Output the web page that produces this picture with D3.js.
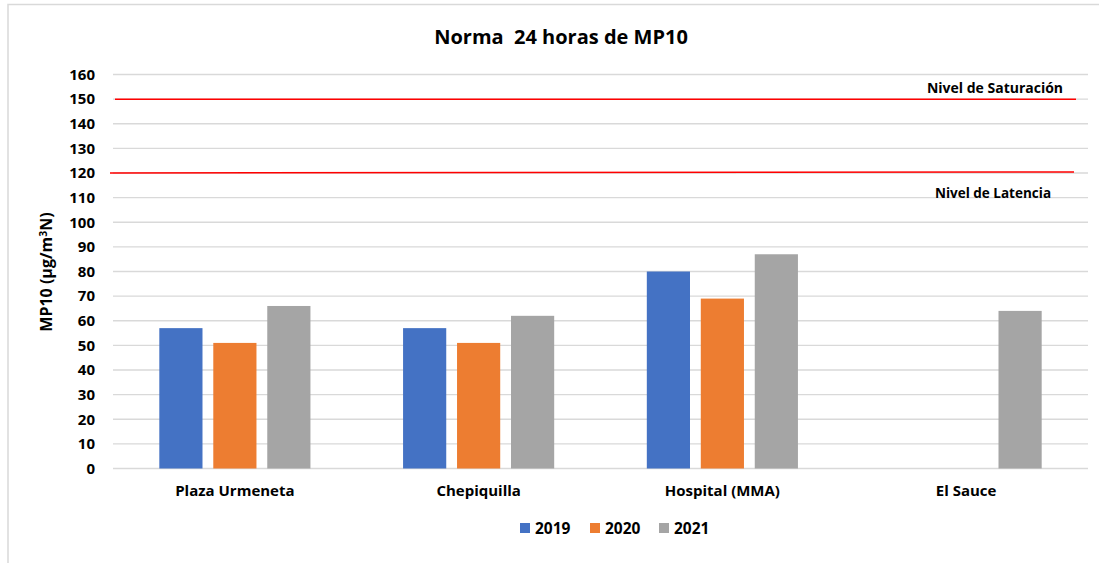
<!DOCTYPE html>
<html>
<head>
<meta charset="utf-8">
<script src="https://cdn.jsdelivr.net/npm/d3@7"></script>
<style>
  body { margin: 0; background: #fff; }
  svg { font-family: "Open Sans", sans-serif; font-weight: bold; }
</style>
</head>
<body>
<svg width="1099" height="563"></svg>
<script>
// data
const stations = ["Plaza Urmeneta", "Chepiquilla", "Hospital (MMA)", "El Sauce"];
const years = ["2019", "2020", "2021"];
const v2019 = [57, 57, 80, null];
const v2020 = [51, 51, 69, null];
const v2021 = [66, 62, 87, 64];
const yTicks = d3.range(0, 161, 10);
const limits = [
  { value: 150, label: "Nivel de Saturación" },
  { value: 120, label: "Nivel de Latencia" }
];

const colors = { "2019": "#4472c4", "2020": "#ed7d31", "2021": "#a5a5a5" };
const series = { "2019": v2019, "2020": v2020, "2021": v2021 };

const svg = d3.select('svg');

// outer chart border (cut at right/bottom like the screenshot)
svg.append('rect')
  .attr('x', 8).attr('y', 4.5)
  .attr('width', 1200).attr('height', 700)
  .attr('fill', 'none')
  .attr('stroke', '#d9d9d9')
  .attr('stroke-width', 1.5);

const x0 = d3.scaleBand().domain(stations).range([113, 1088]).paddingInner(0.38).paddingOuter(0.19);
const x1 = d3.scaleBand().domain(years).range([0, x0.bandwidth()]).paddingInner(0.2);
const y = d3.scaleLinear().domain([0, 160]).range([468.5, 74.5]);

// gridlines
svg.append('g')
  .selectAll('line').data(yTicks).enter()
  .append('line')
  .attr('x1', 113).attr('x2', 1088)
  .attr('y1', d => y(d)).attr('y2', d => y(d))
  .attr('stroke', '#d9d9d9')
  .attr('stroke-width', 1.3);

// y axis labels
const yAxis = d3.axisLeft(y).tickValues(yTicks).tickSize(0).tickPadding(0);
svg.append('g')
  .attr('transform', 'translate(95,0)')
  .call(yAxis)
  .call(g => g.select('.domain').remove())
  .selectAll('text')
  .style('font-size', '15px')
  .style('font-family', '"Open Sans", sans-serif')
  .style('font-weight', 'bold')
  .attr('fill', '#000');

// bars
const groups = svg.append('g').selectAll('g').data(stations).enter()
  .append('g')
  .attr('transform', d => `translate(${x0(d)},0)`);

groups.selectAll('rect')
  .data((d, i) => years.map(yr => ({ yr, v: series[yr][i] })).filter(o => o.v != null))
  .enter().append('rect')
  .attr('x', d => x1(d.yr))
  .attr('y', d => y(d.v))
  .attr('width', x1.bandwidth())
  .attr('height', d => y(0) - y(d.v))
  .attr('fill', d => colors[d.yr]);

// x axis labels
const xAxis = d3.axisBottom(x0).tickSize(0).tickPadding(0);
svg.append('g')
  .attr('transform', 'translate(0,485)')
  .call(xAxis)
  .call(g => g.select('.domain').remove())
  .selectAll('text')
  .style('font-size', '15px')
  .style('font-family', '"Open Sans", sans-serif')
  .style('font-weight', 'bold')
  .attr('fill', '#000');

// norm lines
svg.append('line')
  .attr('x1', 115).attr('x2', 1076)
  .attr('y1', y(limits[0].value)).attr('y2', y(limits[0].value))
  .attr('stroke', '#ff0000').attr('stroke-width', 1.5);
svg.append('line')
  .attr('x1', 110).attr('x2', 1074)
  .attr('y1', y(limits[1].value)).attr('y2', y(limits[1].value) - 1)
  .attr('stroke', '#ff0000').attr('stroke-width', 1.5);

svg.append('text')
  .attr('x', 995).attr('y', 93)
  .attr('text-anchor', 'middle')
  .style('font-size', '14px')
  .text(limits[0].label);
svg.append('text')
  .attr('x', 993).attr('y', 198)
  .attr('text-anchor', 'middle')
  .style('font-size', '13.5px')
  .text(limits[1].label);

// title
svg.append('text')
  .attr('x', 561).attr('y', 44)
  .attr('text-anchor', 'middle')
  .style('font-size', '20px')
  .style('white-space', 'pre')
  .attr('xml:space', 'preserve')
  .text('Norma  24 horas de MP10');

// y axis title
const yt = svg.append('text')
  .attr('transform', 'translate(52,272) rotate(-90)')
  .attr('text-anchor', 'middle')
  .style('font-size', '16px');
yt.append('tspan').text('MP10 (µg/m');
yt.append('tspan').attr('dy', -5).style('font-size', '10.5px').text('3');
yt.append('tspan').attr('dy', 5).text('N)');

// legend
const legend = svg.append('g').attr('transform', 'translate(520,528)');
const legX = [0, 70, 139];
years.forEach((yr, i) => {
  legend.append('rect')
    .attr('x', legX[i]).attr('y', -5)
    .attr('width', 10).attr('height', 10)
    .attr('fill', colors[yr]);
  legend.append('text')
    .attr('x', legX[i] + 15).attr('y', 5.5)
    .style('font-size', '15.5px')
    .text(yr);
});
</script>
</body>
</html>
